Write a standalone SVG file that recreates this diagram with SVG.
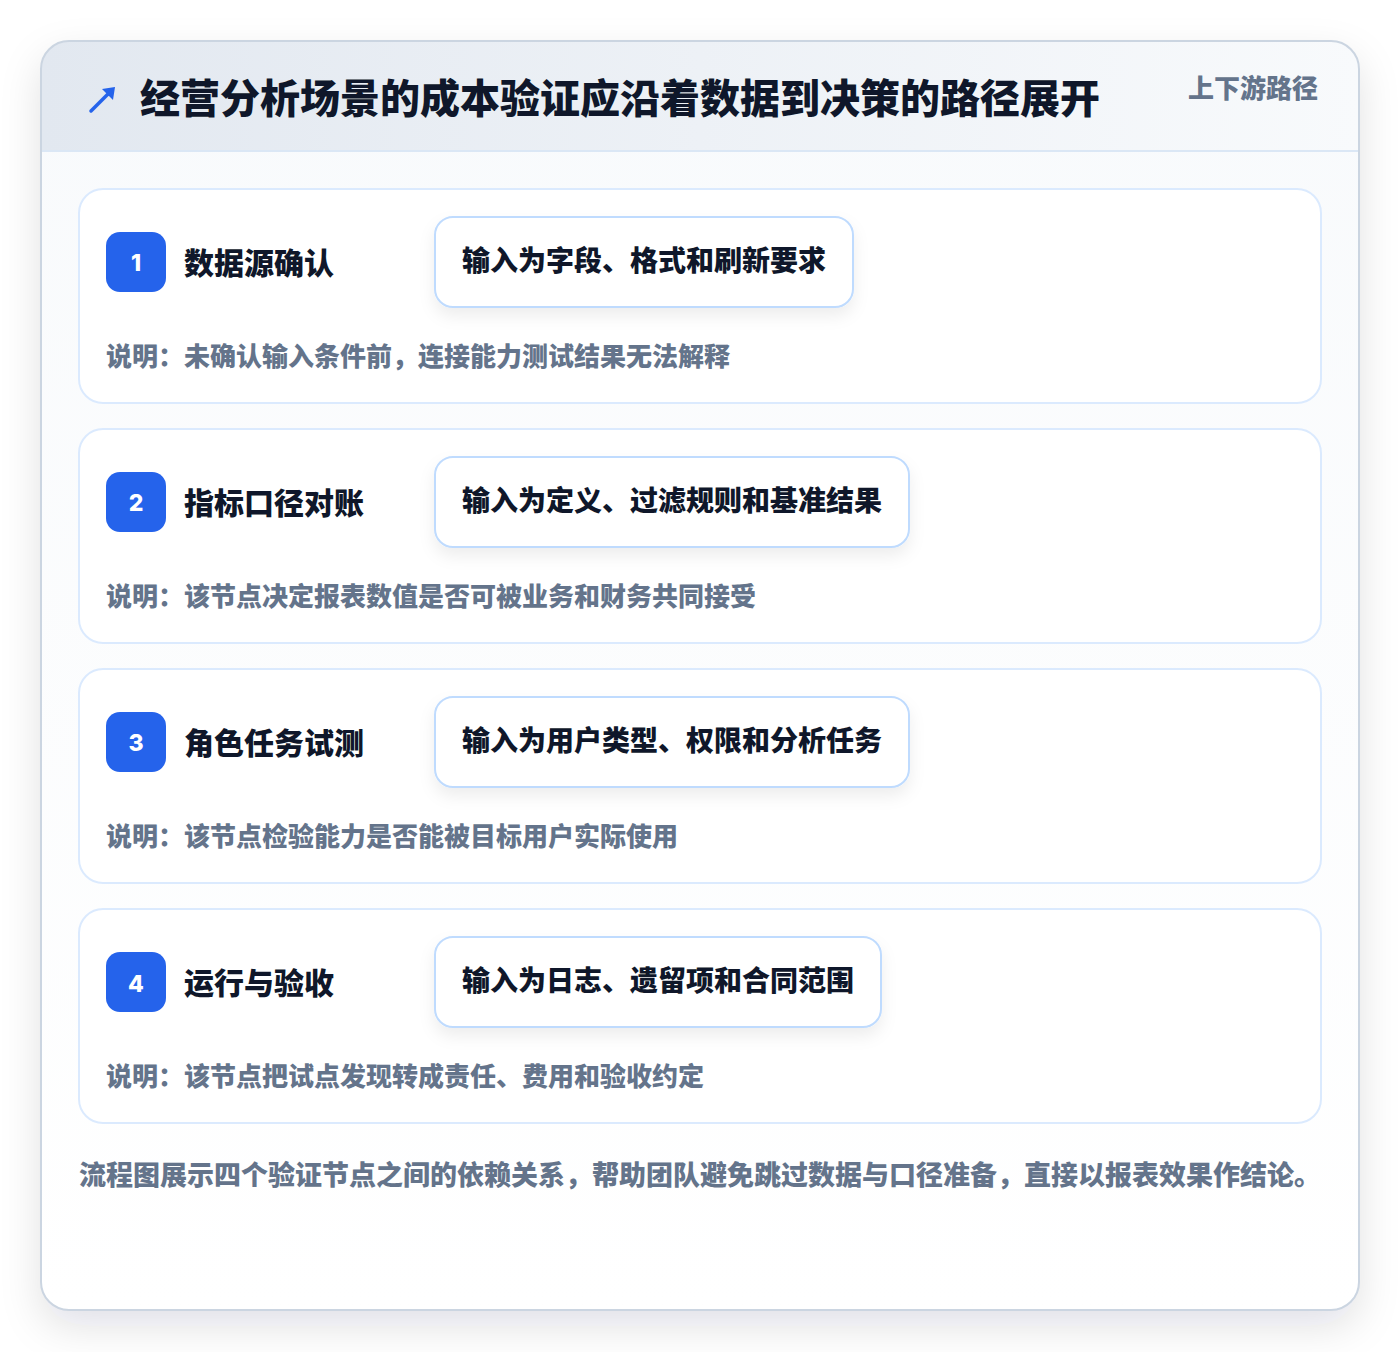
<svg xmlns="http://www.w3.org/2000/svg" width="1400" height="1352" viewBox="0 0 1400 1352">
<defs>
<style>
text{font-family:"Noto Sans CJK SC","Liberation Sans",sans-serif;font-weight:900}
.title{font-size:40px;fill:#0f172a}
.tag{font-size:26px;fill:#64748b}
.card{fill:#ffffff;stroke:#dbeafe;stroke-width:2}
.badge{fill:#2563eb}
.num{font-family:Inter,"Noto Sans CJK SC",sans-serif;font-weight:800;font-size:23px;fill:#ffffff;text-anchor:middle}
.label{font-size:30px;fill:#0f172a}
.pill{fill:#ffffff;stroke:#bfdbfe;stroke-width:2}
.pilltext{font-size:28px;fill:#0f172a}
.desc{font-size:26px;fill:#64748b}
.foot{font-size:27px;fill:#64748b}
</style>
<linearGradient id="hdr" x1="0" y1="0" x2="1" y2="0">
<stop offset="0" stop-color="#e2e8f0"/>
<stop offset="1" stop-color="#f8fafc"/>
</linearGradient>
<linearGradient id="body" x1="0" y1="0" x2="0" y2="1">
<stop offset="0" stop-color="#f8fafc"/>
<stop offset="1" stop-color="#ffffff"/>
</linearGradient>
<filter id="outerShadow" x="-10%" y="-10%" width="120%" height="125%">
<feDropShadow dx="0" dy="16" stdDeviation="20" flood-color="#0f172a" flood-opacity="0.12"/>
</filter>
<filter id="pillShadow" x="-10%" y="-30%" width="120%" height="170%">
<feDropShadow dx="0" dy="8" stdDeviation="8" flood-color="#0f172a" flood-opacity="0.07"/>
</filter>
<clipPath id="panelClip"><rect x="41" y="41" width="1318" height="1269" rx="28"/></clipPath>
</defs>
<rect width="1400" height="1352" fill="#ffffff"/>
<g id="panel">
<rect x="41" y="41" width="1318" height="1269" rx="28" fill="url(#body)" filter="url(#outerShadow)"/>
<g clip-path="url(#panelClip)">
<rect x="41" y="41" width="1318" height="110" fill="url(#hdr)"/>
<line x1="41" y1="151" x2="1359" y2="151" stroke="#dbe7f5" stroke-width="2"/>
</g>
<rect x="41" y="41" width="1318" height="1269" rx="28" fill="none" stroke="#cbd5e1" stroke-width="2"/>
</g>
<g id="header">
<line x1="91" y1="111" x2="108" y2="94" stroke="#2563eb" stroke-width="3.5" stroke-linecap="round"/>
<polygon points="115,87 113,100 102,89" fill="#2563eb"/>
<text class="title" x="140" y="113">经营分析场景的成本验证应沿着数据到决策的路径展开</text>
<text class="tag" x="1318" y="98" text-anchor="end">上下游路径</text>
</g>
<g id="node1">
<rect class="card" x="79" y="189" width="1242" height="214" rx="24"/>
<rect class="badge" x="106" y="232" width="60" height="60" rx="14"/>
<text class="num" x="136" y="271">1</text>
<text class="label" x="184" y="274">数据源确认</text>
<rect class="pill" x="435" y="217" width="418" height="90" rx="18" filter="url(#pillShadow)"/>
<text class="pilltext" x="462" y="271">输入为字段、格式和刷新要求</text>
<text class="desc" x="106" y="366">说明：未确认输入条件前，连接能力测试结果无法解释</text>
</g>
<g id="node2">
<rect class="card" x="79" y="429" width="1242" height="214" rx="24"/>
<rect class="badge" x="106" y="472" width="60" height="60" rx="14"/>
<text class="num" x="136" y="511">2</text>
<text class="label" x="184" y="514">指标口径对账</text>
<rect class="pill" x="435" y="457" width="474" height="90" rx="18" filter="url(#pillShadow)"/>
<text class="pilltext" x="462" y="511">输入为定义、过滤规则和基准结果</text>
<text class="desc" x="106" y="606">说明：该节点决定报表数值是否可被业务和财务共同接受</text>
</g>
<g id="node3">
<rect class="card" x="79" y="669" width="1242" height="214" rx="24"/>
<rect class="badge" x="106" y="712" width="60" height="60" rx="14"/>
<text class="num" x="136" y="751">3</text>
<text class="label" x="184" y="754">角色任务试测</text>
<rect class="pill" x="435" y="697" width="474" height="90" rx="18" filter="url(#pillShadow)"/>
<text class="pilltext" x="462" y="751">输入为用户类型、权限和分析任务</text>
<text class="desc" x="106" y="846">说明：该节点检验能力是否能被目标用户实际使用</text>
</g>
<g id="node4">
<rect class="card" x="79" y="909" width="1242" height="214" rx="24"/>
<rect class="badge" x="106" y="952" width="60" height="60" rx="14"/>
<text class="num" x="136" y="992">4</text>
<text class="label" x="184" y="994">运行与验收</text>
<rect class="pill" x="435" y="937" width="446" height="90" rx="18" filter="url(#pillShadow)"/>
<text class="pilltext" x="462" y="991">输入为日志、遗留项和合同范围</text>
<text class="desc" x="106" y="1086">说明：该节点把试点发现转成责任、费用和验收约定</text>
</g>
<g id="connectors"/>
<g id="footer">
<text class="foot" x="79" y="1185">流程图展示四个验证节点之间的依赖关系，帮助团队避免跳过数据与口径准备，直接以报表效果作结论。</text>
</g>
</svg>
